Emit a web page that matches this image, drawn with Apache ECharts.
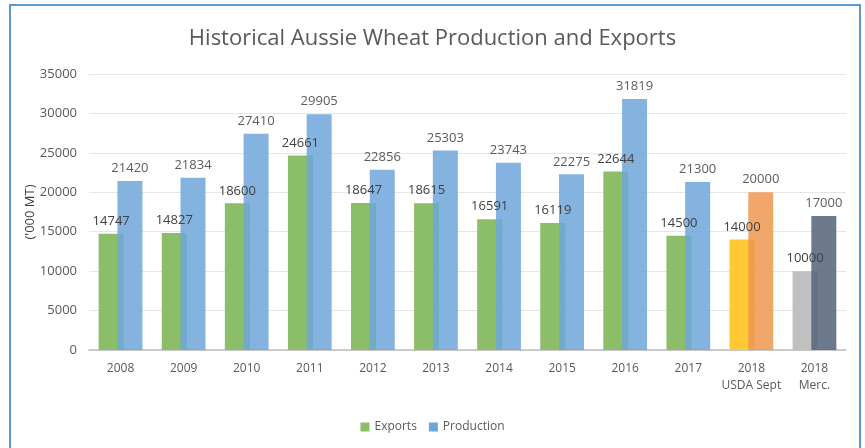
<!DOCTYPE html>
<html>
<head>
<meta charset="utf-8">
<script src="https://cdn.jsdelivr.net/npm/echarts@6/dist/echarts.min.js"></script>
<style>html,body{margin:0;padding:0;background:#fff}#c{width:865px;height:448px}</style>
</head>
<body>
<div id="c"></div>
<script>
const categories = ['2008','2009','2010','2011','2012','2013','2014','2015','2016','2017','2018\nUSDA Sept','2018\nMerc.'];
const exportsVals = [14747,14827,18600,24661,18647,18615,16591,16119,22644,14500,14000,10000];
const productionVals = [21420,21834,27410,29905,22856,25303,23743,22275,31819,21300,20000,17000];
const yTicks = {min:0, max:35000, interval:5000};

const exportColors = ['#8cbd68','#8cbd68','#8cbd68','#8cbd68','#8cbd68','#8cbd68','#8cbd68','#8cbd68','#8cbd68','#8cbd68','#ffc934','#c0c0c0'];
const prodColors = ['#6ea6db','#6ea6db','#6ea6db','#6ea6db','#6ea6db','#6ea6db','#6ea6db','#6ea6db','#6ea6db','#6ea6db','#ee9650','#546178'];

const chart = echarts.init(document.getElementById('c'));
const lbl = {show:true, position:'top', color:'#404040', fontSize:13, fontFamily:'Open Sans', distance:6};
chart.setOption({
  animation:false,
  title:{text:'Historical Aussie Wheat Production and Exports', left:'center', top:23,
    textStyle:{fontFamily:'Open Sans', fontWeight:'normal', fontSize:22, color:'#595959'}},
  graphic:[{type:'rect', shape:{x:10,y:5,width:850,height:445}, style:{fill:'none', stroke:'#5b9bd5', lineWidth:2}}],
  legend:{bottom:10, left:'center', itemWidth:9, itemHeight:9, itemGap:12, icon:'rect',
    textStyle:{fontFamily:'Open Sans', fontSize:12, color:'#595959'},
    data:[{name:'Exports', itemStyle:{color:'#8cbd68'}},{name:'Production', itemStyle:{color:'#6ea6db'}}]},
  grid:{left:89, right:19, top:74, bottom:98},
  xAxis:{type:'category', data:categories,
    axisLine:{lineStyle:{color:'#bfbfbf', width:1.5}}, axisTick:{show:false},
    axisLabel:{color:'#595959', fontFamily:'Open Sans', fontSize:12, margin:10, lineHeight:17, interval:0}},
  yAxis:{type:'value', min:yTicks.min, max:yTicks.max, interval:yTicks.interval,
    name:"('000 MT)", nameLocation:'middle', nameGap:52, nameRotate:90, nameMoveOverlap:false,
    nameTextStyle:{color:'#404040', fontFamily:'Open Sans', fontSize:13},
    axisLine:{show:false}, axisTick:{show:false},
    axisLabel:{color:'#595959', fontFamily:'Open Sans', fontSize:13, margin:12, formatter:v=>String(v)},
    splitLine:{lineStyle:{color:'#e6e6e6'}}},
  series:[
    {name:'Exports', type:'bar', barWidth:25, barGap:'-25%',
     data: exportsVals.map((v,i)=>({value:v, itemStyle:{color:exportColors[i]}})),
     label:lbl},
    {name:'Production', type:'bar', barWidth:25,
     data: productionVals.map((v,i)=>({value:v, itemStyle:{color:prodColors[i], opacity:0.85}})),
     label:lbl}
  ]
});
</script>
</body>
</html>
